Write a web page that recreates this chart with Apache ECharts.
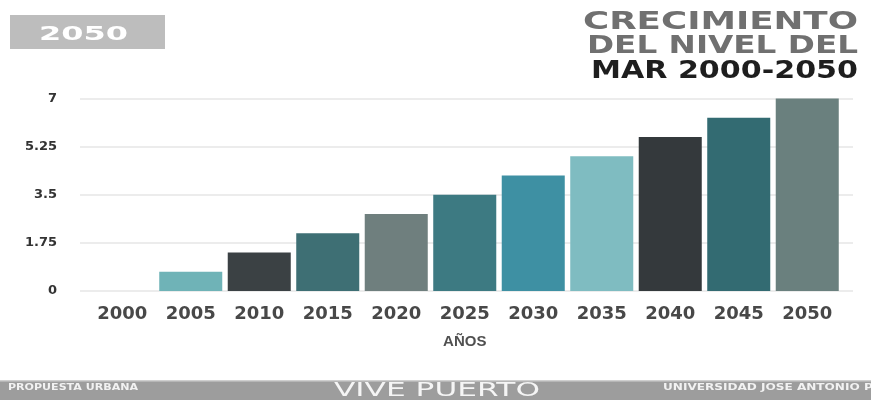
<!DOCTYPE html>
<html>
<head>
<meta charset="utf-8">
<script src="https://cdn.jsdelivr.net/npm/echarts@6/dist/echarts.min.js"></script>
<style>
html,body{margin:0;padding:0;background:#fff;}
#chart{width:871px;height:400px;}
</style>
</head>
<body>
<div id="chart"></div>
<script>
// ---- data ----
var years = ['2000','2005','2010','2015','2020','2025','2030','2035','2040','2045','2050'];
var seaLevel = [0, 0.7, 1.4, 2.1, 2.8, 3.5, 4.2, 4.9, 5.6, 6.3, 7.0];
var yTicks = [0, 1.75, 3.5, 5.25, 7];
var titleLines = ['CRECIMIENTO', 'DEL NIVEL DEL', 'MAR 2000-2050'];

// ---- styles ----
var palette = ['#6fb3b7','#6fb3b7','#3b4144','#3e6f74','#6f7f7e','#3d7a82','#3e90a3','#7fbcc1','#34393c','#336b72','#6a807e'];

var measureCtx = document.createElement('canvas').getContext('2d');
function fitScale(text, font, target) {
  measureCtx.font = font;
  var w = measureCtx.measureText(text).width;
  return w > 0 ? target / w : 1;
}

var titleFont = 'bold 25px "DejaVu Sans"';
var boxFont = 'bold 20px "DejaVu Sans"';
var footFont = '19px "DejaVu Sans"';
var smallFont = 'bold 8px "DejaVu Sans"';

var chart = echarts.init(document.getElementById('chart'));

var option = {
  backgroundColor: '#ffffff',
  animation: false,
  grid: [
    {left: 88, right: 29.5, top: 98.5, bottom: 109},
    {left: 80, right: 18, top: 98.5, bottom: 109}
  ],
  xAxis: [
    {
      type: 'category', gridIndex: 0, data: years,
      axisLine: {show: false}, axisTick: {show: false},
      axisLabel: {margin: 14, color: '#484848', fontFamily: 'DejaVu Sans', fontWeight: 'bold', fontSize: 18},
      name: 'AÑOS', nameLocation: 'middle', nameGap: 43,
      nameTextStyle: {color: '#505050', fontFamily: '"Liberation Sans"', fontWeight: 'bold', fontSize: 15}
    },
    {type: 'value', gridIndex: 1, show: false, min: 0, max: 1}
  ],
  yAxis: [
    {type: 'value', gridIndex: 0, min: 0, max: 7, interval: 1.75, show: false},
    {
      type: 'value', gridIndex: 1, min: 0, max: 7, interval: 1.75,
      axisLine: {show: false}, axisTick: {show: false},
      axisLabel: {margin: 23, color: '#333', fontFamily: 'DejaVu Sans', fontWeight: 'bold', fontSize: 13,
        formatter: function (v) { return yTicks.indexOf(v) >= 0 ? String(v) : ''; }},
      splitLine: {lineStyle: {color: '#e6e6e6', width: 1.5}}
    }
  ],
  series: [{
    type: 'bar', xAxisIndex: 0, yAxisIndex: 0,
    data: seaLevel.map(function (v, i) { return {value: v, itemStyle: {color: palette[i]}}; }),
    barCategoryGap: '8%'
  }],
  graphic: [
    // top-left badge
    {type: 'rect', shape: {x: 10, y: 15, width: 155, height: 34}, style: {fill: '#bdbdbd'}},
    {type: 'text', x: 39, y: 35, scaleX: fitScale('2050', boxFont, 89),
      style: {text: '2050', font: boxFont, fill: '#ffffff', textAlign: 'left', textVerticalAlign: 'middle'}},
    // title
    {type: 'text', x: 858, y: 22.5, scaleX: fitScale(titleLines[0], titleFont, 275),
      style: {text: titleLines[0], font: titleFont, fill: '#707070', textAlign: 'right', textVerticalAlign: 'middle'}},
    {type: 'text', x: 858, y: 46, scaleX: fitScale(titleLines[1], titleFont, 271),
      style: {text: titleLines[1], font: titleFont, fill: '#707070', textAlign: 'right', textVerticalAlign: 'middle'}},
    {type: 'text', x: 858, y: 71, scaleX: fitScale(titleLines[2], titleFont, 267),
      style: {text: titleLines[2], font: titleFont, fill: '#1e1e1e', textAlign: 'right', textVerticalAlign: 'middle'}},
    // footer
    {type: 'rect', shape: {x: 0, y: 381, width: 871, height: 19}, style: {fill: '#9d9d9d'}},
    {type: 'rect', shape: {x: 0, y: 380, width: 871, height: 1.5}, style: {fill: '#cfcfcf'}},
    {type: 'text', x: 8, y: 387.5, scaleX: fitScale('PROPUESTA URBANA', smallFont, 130),
      style: {text: 'PROPUESTA URBANA', font: smallFont, fill: '#f2f2f2', textAlign: 'left', textVerticalAlign: 'middle'}},
    {type: 'text', x: 334, y: 391, scaleX: fitScale('VIVE PUERTO', footFont, 206),
      style: {text: 'VIVE PUERTO', font: footFont, fill: '#f5f5f5', textAlign: 'left', textVerticalAlign: 'middle'}},
    {type: 'text', x: 663, y: 387.5, scaleX: fitScale('UNIVERSIDAD JOSE ANTONIO PAEZ', smallFont, 235),
      style: {text: 'UNIVERSIDAD JOSE ANTONIO PAEZ', font: smallFont, fill: '#f2f2f2', textAlign: 'left', textVerticalAlign: 'middle'}}
  ]
};
chart.setOption(option);
</script>
</body>
</html>
